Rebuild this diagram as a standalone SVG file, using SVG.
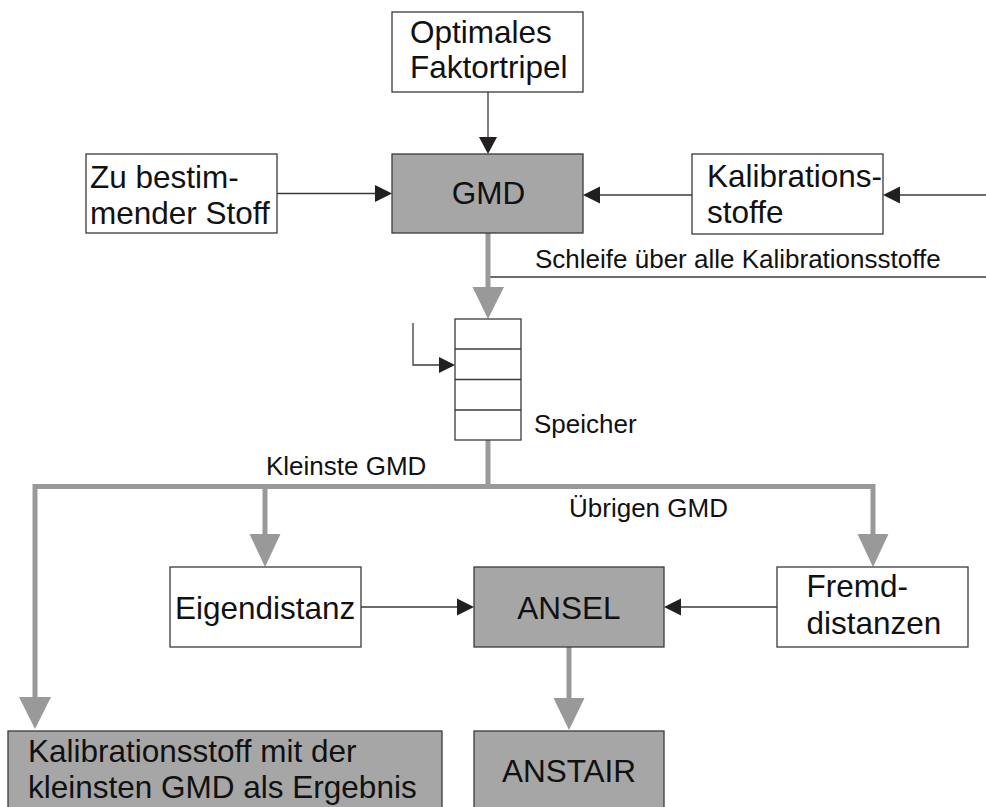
<svg xmlns="http://www.w3.org/2000/svg" width="986" height="807" viewBox="0 0 986 807">
  <style>
    .box { fill: #ffffff; stroke: #3a3a3a; stroke-width: 1.3; }
    .dark { fill: #a6a6a6; stroke: #3a3a3a; stroke-width: 1.3; }
    .big { font-family: "Liberation Sans", Arial, sans-serif; font-size: 31.5px; fill: #111; }
    .lbl { font-family: "Liberation Sans", Arial, sans-serif; font-size: 26px; fill: #111; }
    .thin { fill: none; stroke: #3a3a3a; stroke-width: 1.3; }
    .thick { fill: none; stroke: #999999; stroke-width: 5; }
    .head { fill: #231f20; }
    .ghead { fill: #999999; }
  </style>

  <!-- connectors -->
  <g id="connectors">
    <!-- thin arrows into GMD -->
    <line class="thin" x1="488" y1="92" x2="488" y2="140"/>
    <polygon class="head" points="479,137 497,137 488,154"/>
    <line class="thin" x1="277" y1="193.5" x2="377" y2="193.5"/>
    <polygon class="head" points="375,185 375,202 392,193.5"/>
    <line class="thin" x1="692" y1="195" x2="598" y2="195"/>
    <polygon class="head" points="600,186.5 600,203.5 583,195"/>
    <line class="thin" x1="986" y1="195" x2="898" y2="195"/>
    <polygon class="head" points="900,186.5 900,203.5 883,195"/>

    <!-- loop line -->
    <line class="thin" x1="488" y1="277" x2="986" y2="277"/>

    <!-- GMD down to memory -->
    <line class="thick" x1="488" y1="233" x2="488" y2="290"/>
    <polygon class="ghead" points="472.5,287 504,287 488,319"/>

    <!-- small arrow into memory -->
    <polyline class="thin" points="413,323 413,365 441,365" stroke="#555"/>
    <polygon class="head" points="439,357 439,373 455,365"/>

    <!-- memory down to distribution line -->
    <polyline class="thick" points="488,440 488,486.5"/>
    <polyline class="thick" points="35,700 35,486.5 873,486.5 873,537"/>
    <polygon class="ghead" points="19,697 51,697 35,729"/>
    <line class="thick" x1="265" y1="486.5" x2="265" y2="537"/>
    <polygon class="ghead" points="249.5,534 280.5,534 265,567"/>
    <polygon class="ghead" points="857.5,534 888.5,534 873,567"/>

    <!-- into ANSEL -->
    <line class="thin" x1="361" y1="607" x2="459" y2="607"/>
    <polygon class="head" points="457,598.5 457,615.5 474,607"/>
    <line class="thin" x1="777" y1="607" x2="679" y2="607"/>
    <polygon class="head" points="681,598.5 681,615.5 664,607"/>

    <!-- ANSEL down to ANSTAIR -->
    <line class="thick" x1="569" y1="647" x2="569" y2="701"/>
    <polygon class="ghead" points="553.5,698 584.5,698 569,730"/>
  </g>

  <!-- nodes -->
  <g id="optimales">
    <rect class="box" x="392" y="12" width="191" height="80"/>
    <text class="big" x="410" y="43">Optimales</text>
    <text class="big" x="410" y="78">Faktortripel</text>
  </g>

  <g id="gmd">
    <rect class="dark" x="392" y="154" width="191" height="79"/>
    <text class="big" x="488.5" y="204" text-anchor="middle">GMD</text>
  </g>

  <g id="zu-bestimmen">
    <rect class="box" x="86" y="154" width="191" height="79"/>
    <text class="big" x="90" y="187.5">Zu bestim-</text>
    <text class="big" x="90" y="224">mender Stoff</text>
  </g>

  <g id="kalibrationsstoffe">
    <rect class="box" x="692" y="154" width="191" height="80"/>
    <text class="big" x="707" y="187">Kalibrations-</text>
    <text class="big" x="707" y="223">stoffe</text>
  </g>

  <g id="schleife">
    <text class="lbl" x="535" y="268">Schleife über alle Kalibrationsstoffe</text>
  </g>

  <g id="speicher">
    <rect class="box" x="455" y="319" width="66" height="121"/>
    <line class="thin" x1="455" y1="349" x2="521" y2="349"/>
    <line class="thin" x1="455" y1="379.5" x2="521" y2="379.5"/>
    <line class="thin" x1="455" y1="410" x2="521" y2="410"/>
    <text class="lbl" x="534" y="433">Speicher</text>
  </g>

  <g id="labels">
    <text class="lbl" x="266" y="475">Kleinste GMD</text>
    <text class="lbl" x="569" y="516.5">Übrigen GMD</text>
  </g>

  <g id="eigendistanz">
    <rect class="box" x="170" y="567" width="191" height="80"/>
    <text class="big" x="175" y="618.5">Eigendistanz</text>
  </g>

  <g id="ansel">
    <rect class="dark" x="474" y="567" width="190" height="80"/>
    <text class="big" x="569" y="618.5" text-anchor="middle">ANSEL</text>
  </g>

  <g id="fremddistanzen">
    <rect class="box" x="777" y="567" width="191" height="80"/>
    <text class="big" x="806.5" y="597">Fremd-</text>
    <text class="big" x="806.5" y="634">distanzen</text>
  </g>

  <g id="ergebnis">
    <rect class="dark" x="8" y="731" width="434" height="82"/>
    <text class="big" x="28" y="762">Kalibrationsstoff mit der</text>
    <text class="big" x="28" y="798">kleinsten GMD als Ergebnis</text>
  </g>

  <g id="anstair">
    <rect class="dark" x="474" y="731" width="190" height="82"/>
    <text class="big" x="569" y="782" text-anchor="middle">ANSTAIR</text>
  </g>
</svg>
